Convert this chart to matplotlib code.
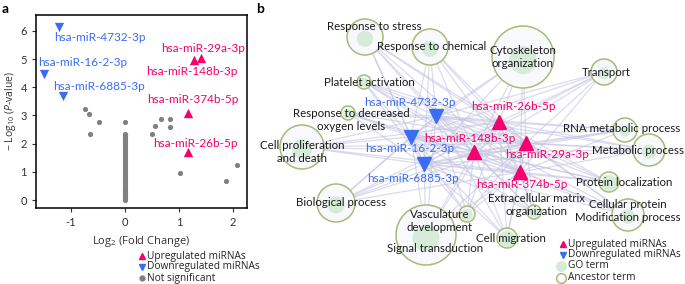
import matplotlib
matplotlib.use("Agg")
import matplotlib.pyplot as plt
from matplotlib.patches import Circle

plt.rcParams['font.family'] = ['Lato', 'DejaVu Sans']
plt.rcParams['mathtext.fontset'] = 'custom'
plt.rcParams['mathtext.rm'] = 'Open Sans'
plt.rcParams['mathtext.it'] = 'Open Sans:italic'

UP = '#f5006e'
DOWN = '#3a6cf4'
GREY = '#808080'
GO_FILL = '#d6ecd9'
ANC_EDGE = '#a7bb78'
SMALL = ['Open Sans', 'DejaVu Sans']

# ---------------- Panel a data ----------------
up_names = ['hsa-miR-29a-3p', 'hsa-miR-148b-3p', 'hsa-miR-374b-5p', 'hsa-miR-26b-5p']
up_fc = [1.41, 1.28, 1.16, 1.16]
up_p = [5.03, 4.98, 3.10, 1.70]

down_names = ['hsa-miR-4732-3p', 'hsa-miR-16-2-3p', 'hsa-miR-6885-3p']
down_fc = [-1.22, -1.50, -1.15]
down_p = [6.15, 4.47, 3.69]

ns_fc = [-0.75, -0.67, -0.48, -0.65, 0.0, 0.50, 0.55, 0.67, 0.83, 0.84, 1.02, 1.87, 2.08]
ns_p = [3.22, 3.04, 2.76, 2.35, 2.78, 2.35, 2.64, 2.86, 2.86, 2.58, 0.95, 0.67, 1.24]
zero_col_p = [0.0, 0.03, 0.06, 0.1, 0.14, 0.18, 0.22, 0.27, 0.32, 0.37, 0.42, 0.48,
              0.54, 0.6, 0.66, 0.72, 0.78, 0.85, 0.92, 0.99, 1.06, 1.13, 1.2, 1.27,
              1.34, 1.41, 1.48, 1.55, 1.62, 1.69, 1.76, 1.83, 1.9, 1.96, 2.02, 2.08,
              2.13, 2.18, 2.22, 2.26, 2.3, 2.34]

x_ticks = [-1, 0, 1, 2]
y_ticks = [0, 1, 2, 3, 4, 5, 6]
legend_a_labels = ['Upregulated miRNAs', 'Downregulated miRNAs', 'Not significant']

# ---------------- Panel b data ----------------
terms = ['Response to stress', 'Response to chemical', 'Cytoskeleton\norganization', 'Transport',
         'Platelet activation', 'Response to decreased\noxygen levels', 'Cell proliferation\nand death',
         'Biological process', 'Signal transduction', 'Vasculature\ndevelopment',
         'Extracellular matrix\norganization', 'Cell migration', 'Cellular protein\nModification process',
         'Protein localization', 'Metabolic process', 'RNA metabolic process']
term_xy = [(365, 37), (430, 47), (523, 57), (604, 72), (364, 82), (348, 113), (302, 147),
           (336, 203), (426, 235), (467, 214), (534, 212), (507, 238), (628, 215),
           (609, 182), (649, 150), (625, 130)]
term_r = [18, 18, 31, 13, 7, 7, 22, 19, 30, 8, 7, 10, 16, 10, 16, 12]
term_label_xy = [(374, 26), (432, 47), (523, 57), (606, 72), (369, 82), (351, 120), (302, 152),
                 (341, 203), (435, 248), (440, 221), (537, 205), (511, 238), (628, 211),
                 (624, 182), (638, 150), (622, 128)]

mir_names = ['hsa-miR-4732-3p', 'hsa-miR-16-2-3p', 'hsa-miR-6885-3p',
             'hsa-miR-26b-5p', 'hsa-miR-148b-3p', 'hsa-miR-29a-3p', 'hsa-miR-374b-5p']
mir_dir = ['down', 'down', 'down', 'up', 'up', 'up', 'up']
mir_xy = [(436, 116), (411, 137), (424, 164), (499, 122), (474, 152), (526, 143), (520, 172)]
mir_label_xy = [(410, 102), (410, 149), (413, 178), (513, 107), (470, 138), (547, 155), (522, 184)]
legend_b_labels = ['Upregulated miRNAs', 'Downregulated miRNAs', 'GO term', 'Ancestor term']

W, H = 685, 284
fig = plt.figure(figsize=(6.85, 2.84), dpi=100)

# ---------- Panel a ----------
ax = fig.add_axes([36 / W, (H - 208) / H, 211 / W, 193 / H])
ax.scatter([0] * len(zero_col_p), zero_col_p, s=14, color=GREY, zorder=2, linewidths=0)
ax.scatter(ns_fc, ns_p, s=14, color=GREY, zorder=2, linewidths=0)
ax.scatter(up_fc, up_p, marker='^', s=45, color=UP, zorder=3, linewidths=0)
ax.scatter(down_fc, down_p, marker='v', s=45, color=DOWN, zorder=3, linewidths=0)

up_lab_pos = [(1.44, 5.39), (1.23, 4.54), (1.26, 3.55), (1.31, 2.02)]
for n, (lx, ly) in zip(up_names, up_lab_pos):
    ax.text(lx, ly, n, color=UP, fontsize=8.5, ha='center', va='center')
down_lab_pos = [(-0.46, 5.78), (-0.78, 4.86), (-0.48, 4.04)]
for n, (lx, ly) in zip(down_names, down_lab_pos):
    ax.text(lx, ly, n, color=DOWN, fontsize=8.5, ha='center', va='center')

ax.set_xlim(-1.65, 2.26)
ax.set_ylim(-0.28, 6.56)
ax.set_xticks(x_ticks)
ax.set_xticklabels(['-1', '0', '1', '2'])
ax.set_yticks(y_ticks)
ax.tick_params(labelsize=8, colors='#333333', length=3, width=0.8)
for s in ax.spines.values():
    s.set_linewidth(1.1)
ax.set_xlabel('Log$_2$ (Fold Change)', fontsize=8, color='#333333', labelpad=4, family=SMALL)
ax.set_ylabel('$-$ Log$_{10}$ ($P$-value)', fontsize=7.5, color='#333333', labelpad=2, family=SMALL)

# ---------- Panel b ----------
bx = fig.add_axes([255 / W, 0, 430 / W, 1])
bx.set_xlim(255, 685)
bx.set_ylim(284, 0)
bx.axis('off')

for (mx, my) in mir_xy:
    for (tx, ty) in term_xy:
        bx.plot([mx, tx], [my, ty], color='#c3c3e2', lw=0.9, alpha=0.6, zorder=1)
for i in range(len(mir_xy)):
    for j in range(i + 1, len(mir_xy)):
        bx.plot([mir_xy[i][0], mir_xy[j][0]], [mir_xy[i][1], mir_xy[j][1]],
                color='#c3c3e2', lw=0.8, alpha=0.45, zorder=1)

for (tx, ty), r in zip(term_xy, term_r):
    bx.add_patch(Circle((tx, ty), r, facecolor='#f8f9fc', edgecolor=ANC_EDGE, lw=1.1, zorder=2))
    gr = max(r * 0.5, r - 2.0) if r < 12 else r * 0.45
    bx.add_patch(Circle((tx, ty + r * 0.1), gr, facecolor=GO_FILL, edgecolor='none', zorder=2.5))

for t, (lx, ly) in zip(terms, term_label_xy):
    bx.text(lx, ly, t, fontsize=8.3, color='#1a1a1a', ha='center', va='center',
            linespacing=1.15, zorder=4)

for n, d, (mx, my), (lx, ly) in zip(mir_names, mir_dir, mir_xy, mir_label_xy):
    c = UP if d == 'up' else DOWN
    bx.plot([mx], [my], marker='^' if d == 'up' else 'v', color=c, markersize=10, ls='none', zorder=5)
    bx.text(lx, ly, n, color=c, fontsize=8.5, ha='center', va='center', zorder=6)

# ---------- Overlay for panel letters and legends (pixel coordinates) ----------
ov = fig.add_axes([0, 0, 1, 1], zorder=10)
ov.set_xlim(0, W)
ov.set_ylim(H, 0)
ov.axis('off')
ov.patch.set_alpha(0)
ov.text(2, 9, 'a', fontsize=10, fontweight='bold', va='center', ha='left')
ov.text(256, 9, 'b', fontsize=10, fontweight='bold', va='center', ha='left')

leg_a_y = [256, 267, 278]
leg_a_style = [dict(marker='^', color=UP, markersize=4.5),
               dict(marker='v', color=DOWN, markersize=4.5),
               dict(marker='o', color=GREY, markersize=3.5)]
for lab, yy, st in zip(legend_a_labels, leg_a_y, leg_a_style):
    ov.plot([142], [yy], ls='none', **st)
    ov.text(147, yy, lab, fontsize=7.3, family=SMALL, color='#222222', va='center', ha='left')

leg_b_y = [244, 255, 266, 278]
leg_b_style = [dict(marker='^', color=UP, markersize=4.5),
               dict(marker='v', color=DOWN, markersize=4.5),
               dict(marker='o', color=GO_FILL, markersize=7),
               dict(marker='o', markerfacecolor='white', markeredgecolor=ANC_EDGE,
                    markeredgewidth=1.1, markersize=7)]
leg_b_x = [563, 563, 561, 561]
for lab, xx, yy, st in zip(legend_b_labels, leg_b_x, leg_b_y, leg_b_style):
    ov.plot([xx], [yy], ls='none', **st)
    ov.text(568, yy, lab, fontsize=7.3, family=SMALL, color='#222222', va='center', ha='left')

fig.savefig('out.png', dpi=100)
